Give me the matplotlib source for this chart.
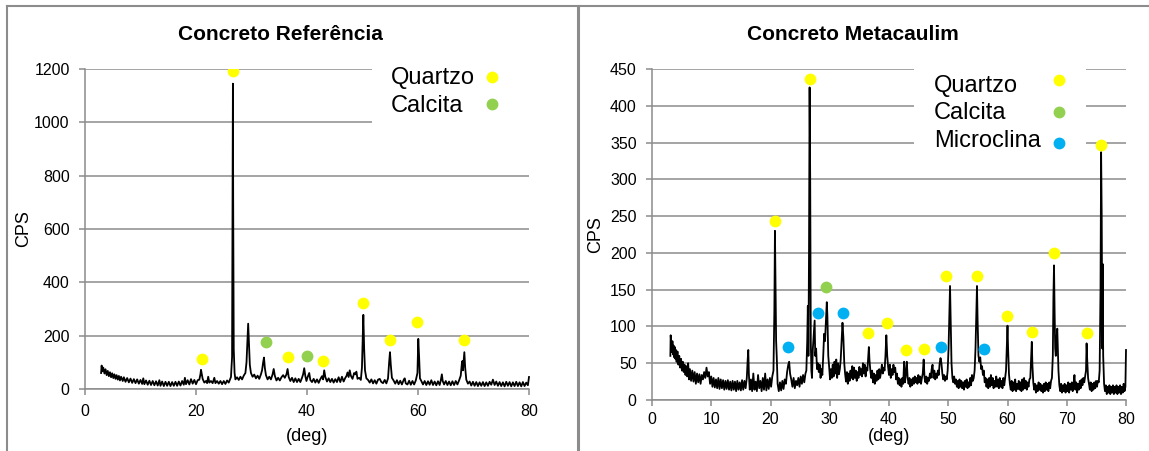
import matplotlib
matplotlib.use("Agg")
import matplotlib.pyplot as plt
from matplotlib.lines import Line2D
from matplotlib.patches import Rectangle

plt.rcParams['font.family'] = ['Liberation Sans', 'DejaVu Sans']

# ---------------- data: Concreto Referência (2theta, CPS) ----------------
ref_points = [
    (2.9, 60), (3.0, 88), (3.1, 66), (3.3, 80), (3.5, 58), (3.7, 74), (3.9, 52), (4.1, 68), (4.3, 48), (4.5, 63),
    (4.7, 44), (4.9, 59), (5.1, 41), (5.3, 55), (5.5, 38), (5.7, 52), (5.9, 35), (6.1, 49), (6.3, 32), (6.5, 46),
    (6.8, 30), (7.0, 44), (7.3, 27), (7.6, 41), (7.9, 25), (8.2, 39), (8.5, 23), (8.8, 37), (9.1, 22), (9.4, 36),
    (9.7, 20), (10.0, 34), (10.3, 19), (10.5, 40), (10.7, 18), (11.0, 32), (11.3, 16), (11.6, 31), (11.9, 15), (12.2, 30),
    (12.5, 14), (12.8, 29), (13.1, 13), (13.4, 33), (13.6, 12), (13.9, 28), (14.2, 11), (14.5, 27), (14.8, 12), (15.1, 27),
    (15.4, 11), (15.7, 26), (16.0, 12), (16.3, 27), (16.6, 12), (16.9, 28), (17.2, 13), (17.5, 30), (17.8, 16), (18.0, 42),
    (18.2, 18), (18.5, 33), (18.8, 17), (19.1, 37), (19.4, 20), (19.7, 34), (20.0, 18), (20.3, 33), (20.6, 35), (20.8, 55),
    (20.9, 72), (21.0, 60), (21.2, 38), (21.5, 24), (21.8, 30), (22.0, 22), (22.2, 46), (22.4, 24), (22.7, 30), (23.0, 22),
    (23.3, 42), (23.5, 22), (23.8, 30), (24.1, 20), (24.4, 30), (24.7, 18), (25.0, 30), (25.3, 19), (25.6, 32), (25.9, 24),
    (26.1, 34), (26.3, 45), (26.5, 120), (26.6, 800), (26.65, 1145), (26.7, 700), (26.8, 150), (26.95, 60), (27.1, 36), (27.4, 44),
    (27.7, 34), (28.0, 46), (28.3, 36), (28.6, 50), (28.9, 60), (29.1, 100), (29.3, 200), (29.4, 245), (29.5, 190), (29.7, 90),
    (29.9, 60), (30.2, 46), (30.5, 54), (30.8, 40), (31.1, 50), (31.4, 38), (31.7, 55), (31.9, 70), (32.1, 100), (32.25, 118),
    (32.4, 80), (32.6, 52), (32.9, 36), (33.2, 46), (33.5, 36), (33.8, 55), (34.0, 75), (34.2, 50), (34.5, 32), (34.8, 42),
    (35.1, 32), (35.4, 44), (35.7, 52), (36.0, 42), (36.3, 55), (36.5, 75), (36.7, 45), (37.0, 30), (37.3, 42), (37.6, 26),
    (37.9, 40), (38.2, 26), (38.5, 38), (38.8, 26), (39.1, 42), (39.3, 55), (39.5, 78), (39.7, 48), (39.9, 30), (40.1, 44),
    (40.4, 60), (40.6, 34), (40.9, 26), (41.2, 38), (41.5, 24), (41.8, 36), (42.1, 23), (42.4, 37), (42.7, 48), (42.9, 36),
    (43.1, 70), (43.3, 45), (43.6, 28), (43.9, 40), (44.2, 26), (44.5, 38), (44.8, 24), (45.1, 37), (45.4, 26), (45.7, 44),
    (46.0, 26), (46.3, 46), (46.6, 28), (46.9, 42), (47.1, 48), (47.3, 62), (47.5, 45), (47.7, 70), (47.9, 50), (48.2, 38),
    (48.5, 60), (48.7, 55), (48.9, 65), (49.1, 38), (49.4, 42), (49.7, 34), (49.9, 80), (50.05, 200), (50.15, 278), (50.3, 150),
    (50.45, 70), (50.7, 40), (51.0, 34), (51.3, 24), (51.6, 36), (51.9, 21), (52.2, 33), (52.5, 20), (52.8, 35), (53.1, 38),
    (53.4, 26), (53.7, 22), (54.0, 34), (54.3, 21), (54.6, 40), (54.8, 100), (54.95, 138), (55.1, 90), (55.3, 42), (55.6, 32),
    (55.9, 20), (56.2, 33), (56.5, 18), (56.8, 31), (57.1, 17), (57.4, 33), (57.6, 40), (57.8, 21), (58.1, 17), (58.4, 31),
    (58.7, 16), (59.0, 30), (59.3, 17), (59.6, 32), (59.9, 60), (60.05, 188), (60.2, 120), (60.35, 40), (60.6, 30), (60.9, 17),
    (61.2, 30), (61.5, 15), (61.8, 29), (62.1, 16), (62.4, 33), (62.7, 15), (63.0, 28), (63.3, 14), (63.6, 29), (63.9, 15),
    (64.1, 32), (64.3, 55), (64.45, 30), (64.7, 17), (65.0, 30), (65.3, 15), (65.6, 28), (65.9, 14), (66.2, 29), (66.5, 15),
    (66.8, 30), (67.1, 17), (67.4, 32), (67.7, 50), (67.9, 95), (68.0, 105), (68.1, 70), (68.25, 110), (68.35, 138), (68.5, 80),
    (68.7, 35), (69.0, 20), (69.3, 28), (69.6, 13), (69.9, 27), (70.2, 12), (70.5, 26), (70.8, 11), (71.1, 25), (71.4, 12),
    (71.7, 26), (72.0, 11), (72.3, 25), (72.6, 12), (72.9, 27), (73.2, 16), (73.5, 35), (73.8, 15), (74.1, 28), (74.4, 12),
    (74.7, 26), (75.0, 11), (75.3, 25), (75.6, 10), (75.9, 27), (76.2, 12), (76.5, 26), (76.8, 10), (77.1, 25), (77.4, 11),
    (77.7, 27), (78.0, 11), (78.3, 25), (78.6, 10), (78.9, 26), (79.2, 11), (79.5, 24), (79.8, 14), (79.9, 30), (80.0, 45),
]

# ---------------- data: Concreto Metacaulim (2theta, CPS) ----------------
meta_points = [
    (3.1, 60), (3.15, 88), (3.25, 78), (3.35, 65), (3.45, 80), (3.55, 62), (3.65, 74), (3.75, 58), (3.85, 72), (3.95, 56),
    (4.05, 68), (4.15, 52), (4.3, 66), (4.45, 48), (4.6, 60), (4.75, 44), (4.9, 56), (5.05, 40), (5.2, 52), (5.35, 38),
    (5.5, 48), (5.65, 34), (5.8, 46), (5.95, 32), (6.1, 50), (6.25, 28), (6.4, 42), (6.6, 26), (6.8, 40), (7.0, 25),
    (7.2, 38), (7.4, 22), (7.6, 36), (7.8, 24), (8.0, 35), (8.2, 22), (8.4, 34), (8.6, 28), (8.8, 38), (9.0, 30),
    (9.2, 44), (9.4, 32), (9.6, 38), (9.8, 22), (10.0, 32), (10.2, 18), (10.4, 30), (10.6, 17), (10.8, 28), (11.0, 16),
    (11.2, 30), (11.4, 15), (11.6, 28), (11.8, 16), (12.0, 27), (12.2, 14), (12.4, 26), (12.6, 15), (12.8, 27), (13.0, 14),
    (13.2, 25), (13.4, 13), (13.6, 26), (13.8, 14), (14.0, 25), (14.2, 12), (14.4, 26), (14.6, 14), (14.8, 24), (15.0, 13),
    (15.2, 27), (15.4, 14), (15.6, 26), (15.8, 16), (16.0, 30), (16.15, 55), (16.25, 68), (16.35, 35), (16.5, 14), (16.7, 28),
    (16.9, 12), (17.1, 36), (17.3, 14), (17.5, 25), (17.7, 12), (17.9, 34), (18.1, 16), (18.3, 26), (18.5, 12), (18.7, 30),
    (18.9, 14), (19.1, 36), (19.3, 13), (19.5, 28), (19.7, 15), (19.9, 30), (20.1, 18), (20.3, 32), (20.5, 40), (20.65, 120),
    (20.75, 230), (20.85, 150), (20.95, 80), (21.05, 60), (21.2, 22), (21.4, 12), (21.6, 24), (21.8, 13), (22.0, 26), (22.2, 15),
    (22.4, 28), (22.6, 22), (22.8, 38), (23.0, 48), (23.15, 52), (23.3, 36), (23.5, 28), (23.7, 18), (23.9, 30), (24.1, 16),
    (24.3, 26), (24.5, 20), (24.7, 30), (24.9, 18), (25.1, 32), (25.3, 22), (25.5, 34), (25.7, 24), (25.9, 36), (26.05, 40),
    (26.2, 80), (26.3, 128), (26.4, 60), (26.5, 200), (26.6, 425), (26.7, 300), (26.8, 80), (26.9, 40), (27.0, 30), (27.15, 70),
    (27.3, 88), (27.45, 108), (27.55, 60), (27.7, 70), (27.85, 42), (28.0, 50), (28.15, 38), (28.3, 48), (28.45, 30), (28.6, 42),
    (28.75, 34), (28.9, 60), (29.05, 90), (29.2, 80), (29.35, 105), (29.5, 133), (29.6, 115), (29.75, 60), (29.9, 45), (30.05, 28),
    (30.2, 42), (30.35, 30), (30.5, 48), (30.65, 32), (30.8, 52), (30.95, 36), (31.1, 55), (31.25, 30), (31.4, 50), (31.55, 35),
    (31.7, 42), (31.85, 55), (32.0, 80), (32.15, 105), (32.3, 85), (32.45, 50), (32.6, 35), (32.75, 25), (32.9, 38), (33.05, 22),
    (33.2, 36), (33.35, 26), (33.5, 40), (33.65, 30), (33.8, 46), (33.95, 28), (34.1, 44), (34.25, 30), (34.4, 40), (34.55, 26),
    (34.7, 38), (34.85, 30), (35.0, 45), (35.15, 34), (35.3, 42), (35.45, 32), (35.6, 50), (35.75, 36), (35.9, 48), (36.05, 32),
    (36.2, 44), (36.35, 40), (36.5, 60), (36.6, 72), (36.7, 55), (36.85, 40), (37.0, 30), (37.15, 40), (37.3, 24), (37.45, 36),
    (37.6, 22), (37.75, 34), (37.9, 26), (38.05, 40), (38.2, 28), (38.35, 42), (38.5, 30), (38.65, 38), (38.8, 48), (38.95, 36),
    (39.1, 44), (39.25, 40), (39.4, 60), (39.55, 88), (39.7, 60), (39.85, 45), (40.0, 34), (40.15, 48), (40.3, 30), (40.45, 42),
    (40.6, 34), (40.75, 48), (40.9, 38), (41.05, 44), (41.2, 28), (41.35, 36), (41.5, 22), (41.65, 30), (41.8, 20), (41.95, 28),
    (42.1, 18), (42.25, 30), (42.4, 22), (42.55, 52), (42.7, 24), (42.85, 36), (43.0, 52), (43.15, 30), (43.3, 22), (43.45, 30),
    (43.6, 18), (43.75, 28), (43.9, 20), (44.05, 30), (44.2, 22), (44.35, 32), (44.5, 24), (44.65, 30), (44.8, 22), (44.95, 34),
    (45.1, 24), (45.25, 32), (45.4, 22), (45.55, 30), (45.7, 36), (45.85, 55), (46.0, 30), (46.15, 24), (46.3, 32), (46.45, 22),
    (46.6, 30), (46.75, 26), (46.9, 36), (47.05, 30), (47.2, 42), (47.35, 48), (47.5, 30), (47.65, 40), (47.8, 28), (47.95, 36),
    (48.1, 30), (48.25, 40), (48.4, 34), (48.55, 50), (48.7, 57), (48.85, 50), (49.0, 36), (49.15, 28), (49.3, 34), (49.45, 26),
    (49.6, 32), (49.75, 28), (49.9, 40), (50.05, 70), (50.2, 120), (50.3, 155), (50.4, 110), (50.55, 50), (50.7, 30), (50.85, 24),
    (51.0, 32), (51.15, 22), (51.3, 28), (51.45, 18), (51.6, 26), (51.75, 16), (51.9, 28), (52.05, 18), (52.2, 26), (52.35, 16),
    (52.5, 24), (52.65, 14), (52.8, 26), (52.95, 18), (53.1, 28), (53.25, 16), (53.4, 24), (53.55, 18), (53.7, 30), (53.85, 20),
    (54.0, 34), (54.15, 26), (54.3, 30), (54.45, 40), (54.6, 70), (54.75, 120), (54.85, 155), (54.95, 110), (55.1, 60), (55.25, 52),
    (55.4, 58), (55.55, 42), (55.7, 46), (55.85, 34), (56.0, 40), (56.15, 24), (56.3, 30), (56.45, 18), (56.6, 28), (56.75, 16),
    (56.9, 30), (57.05, 18), (57.2, 34), (57.35, 20), (57.5, 30), (57.65, 16), (57.8, 26), (57.95, 18), (58.1, 32), (58.25, 18),
    (58.4, 28), (58.55, 16), (58.7, 30), (58.85, 18), (59.0, 26), (59.15, 16), (59.3, 30), (59.45, 20), (59.6, 30), (59.75, 40),
    (59.9, 75), (60.0, 101), (60.1, 70), (60.25, 35), (60.4, 22), (60.55, 14), (60.7, 26), (60.85, 12), (61.0, 24), (61.15, 14),
    (61.3, 28), (61.45, 12), (61.6, 22), (61.75, 15), (61.9, 26), (62.05, 14), (62.2, 24), (62.35, 12), (62.5, 28), (62.65, 14),
    (62.8, 30), (62.95, 16), (63.1, 26), (63.25, 14), (63.4, 24), (63.55, 18), (63.7, 28), (63.85, 30), (64.0, 60), (64.1, 79),
    (64.2, 48), (64.35, 24), (64.5, 14), (64.65, 22), (64.8, 10), (64.95, 20), (65.1, 12), (65.25, 24), (65.4, 14), (65.55, 22),
    (65.7, 12), (65.85, 20), (66.0, 10), (66.15, 22), (66.3, 12), (66.45, 24), (66.6, 14), (66.75, 22), (66.9, 12), (67.05, 24),
    (67.2, 16), (67.35, 26), (67.5, 30), (67.65, 60), (67.75, 140), (67.85, 183), (67.95, 120), (68.05, 70), (68.15, 60), (68.3, 85),
    (68.4, 97), (68.5, 70), (68.6, 40), (68.75, 20), (68.9, 12), (69.05, 22), (69.2, 10), (69.35, 20), (69.5, 12), (69.65, 22),
    (69.8, 10), (69.95, 20), (70.1, 12), (70.25, 24), (70.4, 10), (70.55, 22), (70.7, 14), (70.85, 24), (71.0, 12), (71.15, 22),
    (71.3, 34), (71.45, 14), (71.6, 24), (71.75, 10), (71.9, 22), (72.05, 14), (72.2, 26), (72.35, 16), (72.5, 28), (72.65, 20),
    (72.8, 30), (72.95, 24), (73.1, 32), (73.25, 40), (73.35, 77), (73.45, 55), (73.6, 30), (73.75, 22), (73.9, 14), (74.05, 24),
    (74.2, 12), (74.35, 22), (74.5, 14), (74.65, 24), (74.8, 16), (74.95, 26), (75.1, 18), (75.25, 26), (75.4, 24), (75.55, 40),
    (75.7, 150), (75.8, 337), (75.9, 250), (76.0, 70), (76.05, 185), (76.15, 60), (76.3, 22), (76.45, 12), (76.6, 20), (76.75, 8),
    (76.9, 18), (77.05, 10), (77.2, 20), (77.35, 8), (77.5, 18), (77.65, 10), (77.8, 20), (77.95, 8), (78.1, 18), (78.25, 10),
    (78.4, 20), (78.55, 8), (78.7, 18), (78.85, 10), (79.0, 20), (79.15, 8), (79.3, 18), (79.45, 10), (79.6, 22), (79.75, 12),
    (79.9, 18), (80.0, 68),
]

# ---------------- phase markers ----------------
ref_quartzo_x = [26.7, 21.0, 36.5, 42.9, 50.05, 54.9, 59.9, 68.35]
ref_quartzo_y = [1192, 112, 120, 106, 324, 182, 250, 182]
ref_calcita_x = [32.7, 40.0]
ref_calcita_y = [176, 122]

meta_quartzo_x = [20.7, 26.6, 36.5, 39.6, 42.9, 45.9, 49.7, 54.8, 59.9, 64.1, 67.9, 73.4, 75.85]
meta_quartzo_y = [244, 436, 91, 105, 68, 70, 169, 168, 114, 93, 200, 91, 346]
meta_calcita_x = [29.4]
meta_calcita_y = [153]
meta_micro_x = [22.9, 28.0, 32.2, 48.7, 56.1]
meta_micro_y = [72, 118, 118, 72, 70]

ref_yticks = [0, 200, 400, 600, 800, 1000, 1200]
ref_xticks = [0, 20, 40, 60, 80]
meta_yticks = [0, 50, 100, 150, 200, 250, 300, 350, 400, 450]
meta_xticks = [0, 10, 20, 30, 40, 50, 60, 70, 80]

ref_labels = ['Quartzo', 'Calcita']
meta_labels = ['Quartzo', 'Calcita', 'Microclina']

YELLOW = '#FFFF00'
GREEN = '#92D050'
BLUE = '#00B0F0'
GRAY = '#8C8C8C'

W, H = 1149, 451
fig = plt.figure(figsize=(W / 100, H / 100), dpi=100)


def style_axes(ax, xticks, yticks, xpad, ypad):
    ax.set_xlim(xticks[0], xticks[-1])
    ax.set_ylim(yticks[0], yticks[-1])
    ax.set_xticks(xticks)
    ax.set_yticks(yticks)
    for s in ('top', 'right'):
        ax.spines[s].set_visible(False)
    for s in ('left', 'bottom'):
        ax.spines[s].set_color(GRAY)
        ax.spines[s].set_linewidth(1.1)
    ax.grid(axis='y', color=GRAY, linewidth=1.1, zorder=0)
    ax.set_axisbelow(True)
    ax.tick_params(axis='both', direction='out', length=4, width=1.1, color=GRAY,
                   labelsize=11.5, labelcolor='black')
    ax.tick_params(axis='x', pad=xpad)
    ax.tick_params(axis='y', pad=ypad)


def draw_panel(ax, points, markers, labels, title, title_x, rect, text_x, text_y, dot_x, dot_y):
    tx, ty = zip(*points)
    ax.plot(tx, ty, color='black', linewidth=1.3, zorder=3, clip_on=False,
            solid_joinstyle='round')
    for (mx, my, col) in markers:
        ax.plot(mx, my, 'o', color=col, markersize=8.5, markeredgewidth=0,
                linestyle='none', zorder=4)
    # legend: white box hiding the grid, labels left-aligned, dots on the right
    bg = Rectangle((rect[0], rect[1]), rect[2], rect[3], transform=ax.transAxes,
                   facecolor='white', edgecolor='none', zorder=2, clip_on=False)
    ax.add_patch(bg)
    for i, lab in enumerate(labels):
        ax.text(text_x, text_y[i], lab, transform=ax.transAxes, fontsize=17,
                ha='left', va='baseline', zorder=5)
        ax.add_line(Line2D([dot_x], [dot_y[i]], transform=ax.transAxes, marker='o',
                           markersize=8.5, markeredgewidth=0, color=markers[i][2],
                           linestyle='none', zorder=5, clip_on=False))
    ax.set_ylabel('CPS', fontsize=13)
    ax.set_xlabel('(deg)', fontsize=13)
    fig.text(title_x / W, 1 - 39.5 / H, title, ha='center', va='baseline',
             fontsize=15, fontweight='bold')


# left panel
axL = fig.add_axes([85 / W, 1 - 389 / H, 444 / W, 320 / H])
style_axes(axL, ref_xticks, ref_yticks, xpad=6.5, ypad=7)
draw_panel(axL, ref_points,
           [(ref_quartzo_x, ref_quartzo_y, YELLOW),
            (ref_calcita_x, ref_calcita_y, GREEN)],
           ref_labels, 'Concreto Referência', 280,
           (0.646, 0.81, 0.36, 0.22),
           0.689, [0.953, 0.8666], 0.9167, [0.975, 0.8916])
axL.xaxis.set_label_coords(0.5, -0.122)
axL.yaxis.set_label_coords(-0.12, 0.5)

# right panel
axR = fig.add_axes([652 / W, 1 - 400 / H, 474 / W, 331 / H])
style_axes(axR, meta_xticks, meta_yticks, xpad=5, ypad=7)
draw_panel(axR, meta_points,
           [(meta_quartzo_x, meta_quartzo_y, YELLOW),
            (meta_calcita_x, meta_calcita_y, GREEN),
            (meta_micro_x, meta_micro_y, BLUE)],
           meta_labels, 'Concreto Metacaulim', 853,
           (0.553, 0.74, 0.363, 0.29),
           0.595, [0.9314, 0.848, 0.765], 0.8576, [0.9668, 0.871, 0.7764])
axR.xaxis.set_label_coords(0.5, -0.085)
axR.yaxis.set_label_coords(-0.101, 0.5)

# chart-area borders
fig.add_artist(Line2D([7 / W, 1], [1 - 5.5 / H, 1 - 5.5 / H], transform=fig.transFigure,
                      color=GRAY, linewidth=1.5))
fig.add_artist(Line2D([7 / W, 7 / W], [0, 1 - 5.5 / H], transform=fig.transFigure,
                      color=GRAY, linewidth=1.5))
fig.add_artist(Line2D([578 / W, 578 / W], [0, 1 - 5.5 / H], transform=fig.transFigure,
                      color=GRAY, linewidth=2.2))

fig.savefig('out.png', dpi=100)
